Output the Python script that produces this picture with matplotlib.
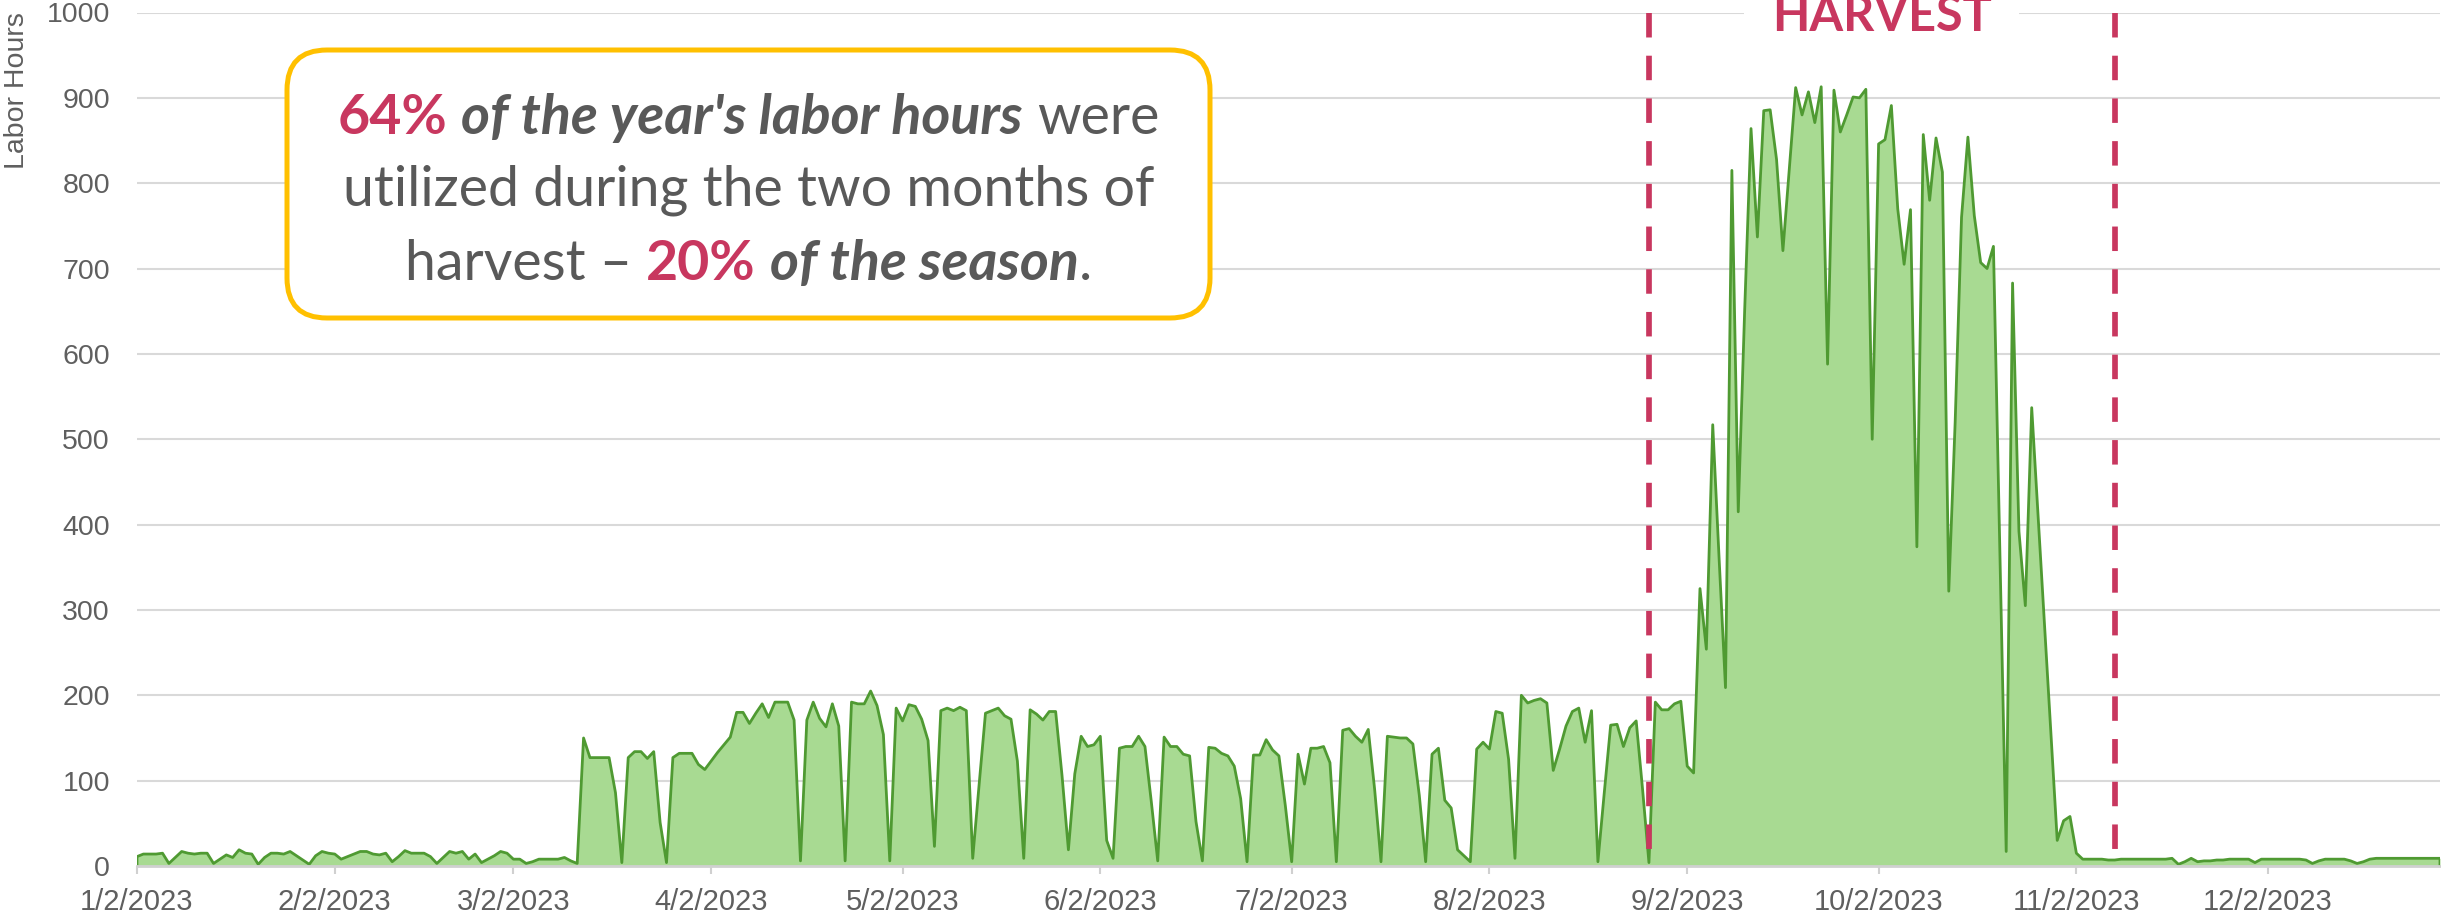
import numpy as np
import pandas as pd
import matplotlib
matplotlib.use('Agg')
import matplotlib.pyplot as plt
from matplotlib.patches import FancyBboxPatch
from matplotlib.transforms import IdentityTransform

# daily labor hours, one value per day starting 1/2/2023
hours_winter = [11, 14, 14, 14, 15, 3, 10, 17, 15, 14, 15, 15, 3, 8, 13, 10, 19, 15, 14, 2,
                10, 15, 15, 14, 17, 12, 7, 2, 12, 17, 15, 14, 8, 11, 14, 17, 17, 14, 13, 15,
                5, 11, 18, 15, 15, 15, 11, 3, 10, 17, 15, 17, 8, 14, 4, 8, 12, 17, 15, 8,
                8, 3, 5, 8, 8, 8, 8, 10, 6, 3]                      # Jan 2 - Mar 12
hours_spring = [150, 127, 127, 127, 127, 86, 4, 127, 134, 134, 126, 134, 51, 4, 127, 132,
                132, 132, 119, 113, 123, 133, 142, 151, 180, 180, 167, 179, 190, 174, 192,
                192, 192, 171, 6, 171, 192, 173, 163, 190, 164, 6, 192, 190, 190, 205, 188,
                154, 6, 185, 170, 189, 187, 172, 147, 23, 182, 185, 182, 186, 182, 9, 95,
                179, 182, 185, 176, 172, 123, 9, 183, 178, 171, 181, 181, 106, 19, 108, 152,
                140, 142, 152, 30, 9, 138, 140, 140, 152, 140, 75, 6, 151, 140, 140, 131,
                129, 52, 6, 139, 138, 132, 129, 117, 79, 5]         # Mar 13 - Jun 25
hours_summer = [130, 130, 148, 136, 129, 71, 5, 131, 96, 138, 138, 140, 121, 5, 159, 161,
                152, 145, 160, 90, 5, 152, 151, 150, 150, 143, 83, 5, 131, 138, 77, 68, 19,
                12, 5, 137, 145, 137, 181, 179, 125, 9, 200, 191, 194, 196, 191, 112, 137,
                164, 181, 185, 145, 182, 5, 86, 165, 166, 140, 162, 170, 90, 4, 192, 183,
                183, 190, 193, 117, 109]                             # Jun 26 - Sep 3
hours_harvest = [325, 254, 517, 360, 209, 815, 415, 650, 864, 737, 885, 886, 828, 721, 816,
                 912, 880, 907, 871, 913, 588, 909, 860, 880, 901, 900, 910, 500, 846, 851,
                 891, 770, 705, 769, 374, 857, 780, 853, 813, 322, 520, 760, 854, 762, 707,
                 700, 726, 370, 17, 683, 392, 305, 537, 410, 283, 157, 30, 53, 58]  # Sep 4 - Nov 1
hours_late = [15, 8, 8, 8, 8, 7, 7, 8, 8, 8, 8, 8, 8, 8, 8, 9, 2, 5, 9, 5, 6, 6, 7, 7, 8,
              8, 8, 8, 4, 8, 8, 8, 8, 8, 8, 8, 7, 3, 6, 8, 8, 8, 8, 6, 3, 5, 8, 9, 9, 9,
              9, 9, 9, 9, 9, 9, 9, 9]                                # Nov 2 - Dec 29

hours = hours_winter + hours_spring + hours_summer + hours_harvest + hours_late
days = pd.date_range('2023-01-02', periods=len(hours), freq='D')

# ticks on the 2nd of every month
tick_dates = pd.date_range('2023-01-01', '2023-12-01', freq='MS') + pd.Timedelta(days=1)
tick_labels = [f'{d.month}/{d.day}/{d.year}' for d in tick_dates]
y_ticks = list(range(0, 1001, 100))

harvest_start = pd.Timestamp('2023-08-27')
harvest_end = pd.Timestamp('2023-11-08')

red = '#c8375f'
gray_txt = '#595959'
axis_gray = '#5f5f5f'

fig = plt.figure(figsize=(24.41, 9.19), dpi=100)
W, H = 2441, 919
ax = fig.add_axes([137 / W, 1 - 866 / H, (2440 - 137) / W, (866 - 12.5) / H])

# area + outline (outline closes down to zero at both ends)
ax.fill_between(days, hours, 0, color='#a8da92', linewidth=0, zorder=2)
line_x = [days[0]] + list(days) + [days[-1]]
line_y = [0] + hours + [0]
ax.plot(line_x, line_y, color='#4f9a32', lw=2.0, zorder=3)

ax.set_xlim(days[0], days[-1])
ax.set_ylim(0, 1000)
ax.set_yticks(y_ticks)
ax.set_yticklabels([str(v) for v in y_ticks])
ax.set_xticks(tick_dates)
ax.set_xticklabels(tick_labels)

ax.grid(axis='y', color='#d9d9d9', lw=1.5, zorder=0)
ax.set_axisbelow(True)
for s in ['top', 'right', 'left']:
    ax.spines[s].set_visible(False)
ax.spines['bottom'].set_color('#d0d0d0')
ax.spines['bottom'].set_linewidth(2)
ax.spines['bottom'].set_zorder(4)

ax.tick_params(axis='y', length=0, pad=19.5, labelsize=20.5, labelcolor=axis_gray)
ax.tick_params(axis='x', length=6, width=1.5, color='#d0d0d0', pad=10,
               labelsize=21, labelcolor=axis_gray)
for lab in ax.get_xticklabels() + ax.get_yticklabels():
    lab.set_family('Liberation Sans')

fig.text(17.5 / W, 1 - 91 / H, 'Labor Hours', rotation=90, ha='center', va='center',
         fontsize=20.5, color=axis_gray, family='Liberation Sans')

# harvest window
for d in [harvest_start, harvest_end]:
    ax.plot([d, d], [1000, 0], color=red, lw=4.1, linestyle=(0, (4.3, 3.2)),
            dash_capstyle='butt', zorder=5, clip_on=False)
mid = harvest_start + (harvest_end - harvest_start) / 2
ax.text(mid, 978, 'HARVEST', ha='center', va='baseline', fontsize=35, fontweight='bold',
        color=red, family='Lato', clip_on=False, zorder=6,
        bbox=dict(facecolor='white', edgecolor='none', pad=20))

# callout box
box = FancyBboxPatch((287, H - 318), 923, 268, boxstyle='round,pad=0,rounding_size=40',
                     transform=IdentityTransform(), facecolor='white', edgecolor='#ffc000',
                     lw=3.6, zorder=10)
fig.add_artist(box)

styles = {
    'n': dict(color=gray_txt, fontweight='normal', fontstyle='normal'),
    'bi': dict(color=gray_txt, fontweight='bold', fontstyle='italic'),
    'r': dict(color=red, fontweight='bold', fontstyle='normal'),
}
lines = [
    (134, [('64%', 'r', 0), ("of the year's labor hours", 'bi', 1), ('were', 'n', 1)]),
    (206, [('utilized during the two months of', 'n', 0)]),
    (280, [('harvest –', 'n', 0), ('20%', 'r', 1), ('of the season', 'bi', 1), ('.', 'n', 0)]),
]
fsize = 40
renderer = fig.canvas.get_renderer()
probe1 = fig.text(0, 0, 'x x', fontsize=fsize, family='Lato')
probe2 = fig.text(0, 0, 'xx', fontsize=fsize, family='Lato')
space_w = probe1.get_window_extent(renderer).width - probe2.get_window_extent(renderer).width
probe1.remove()
probe2.remove()

cx = 748.5
for base, runs in lines:
    arts = []
    for txt, key, gap in runs:
        t = fig.text(0, 1 - base / H, txt, fontsize=fsize, family='Lato', va='baseline',
                     ha='left', zorder=11, **styles[key])
        arts.append((t, gap))
    widths = [t.get_window_extent(renderer).width for t, _ in arts]
    total = sum(widths) + space_w * sum(g for _, g in arts)
    x = cx - total / 2
    for (t, gap), w in zip(arts, widths):
        x += gap * space_w
        t.set_x(x / W)
        x += w

fig.savefig('out.png', dpi=100, facecolor='white')
